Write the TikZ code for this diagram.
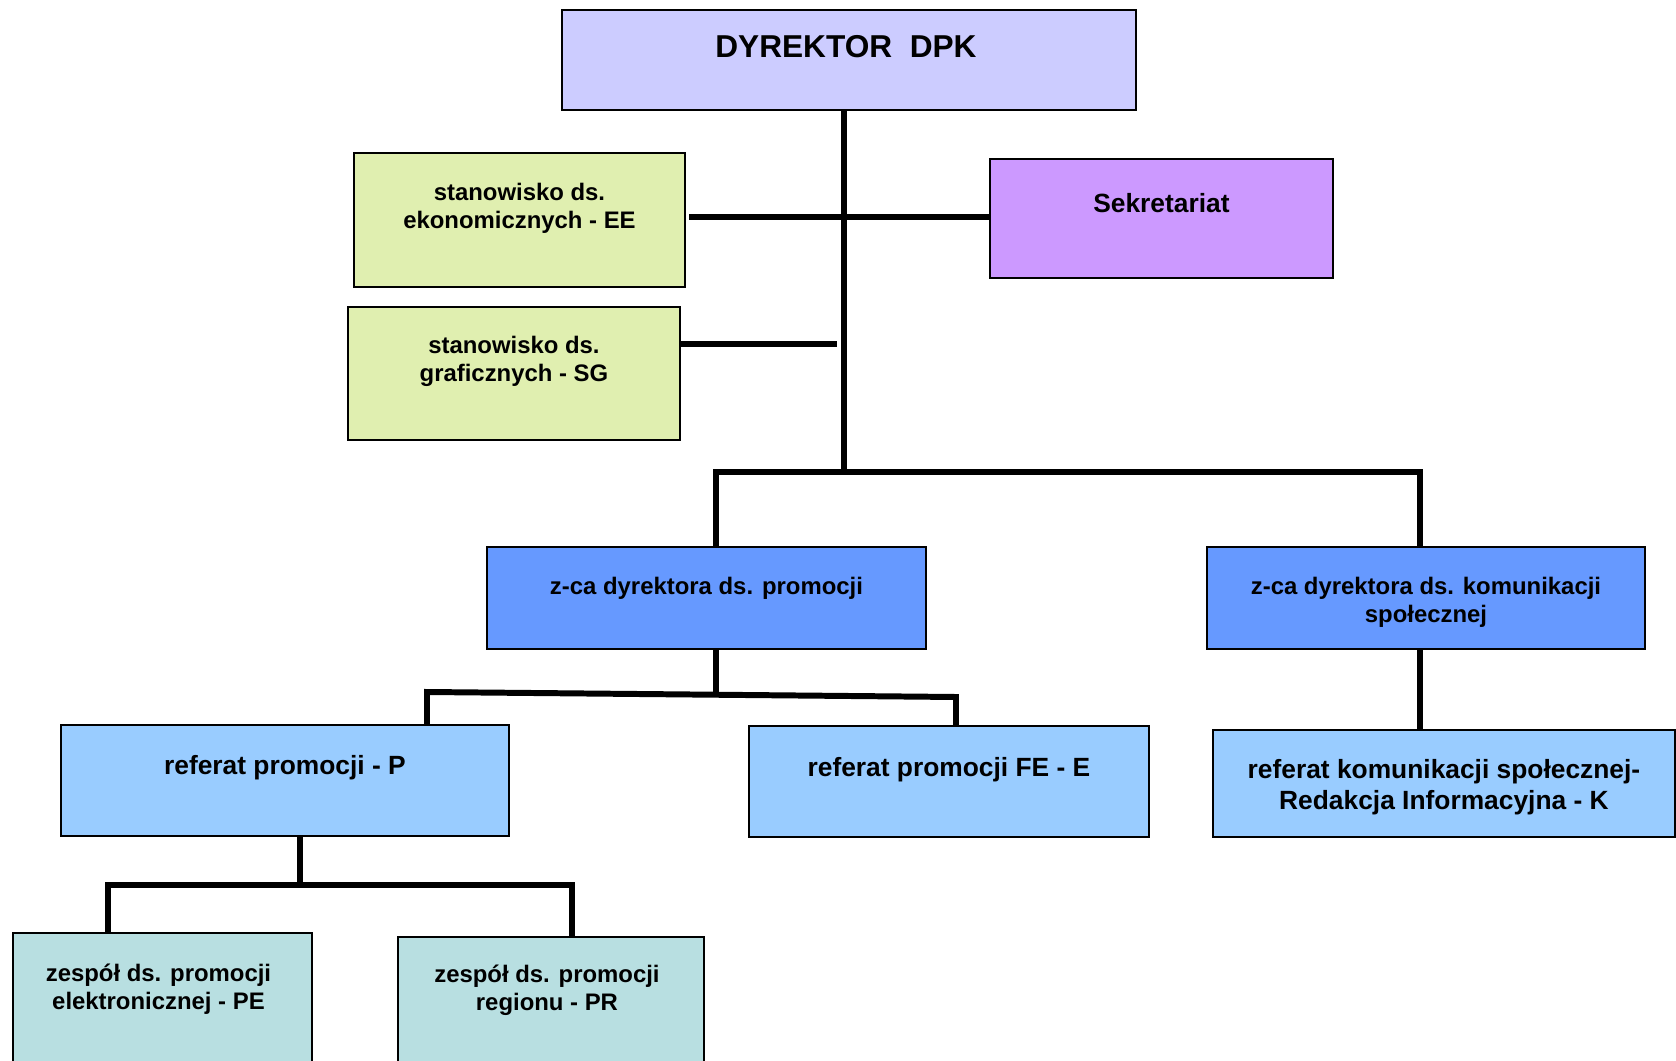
\documentclass[tikz,border=0pt]{standalone}
\usepackage{fontspec}
\setmainfont{Liberation Sans}
\usepackage{tikz}
\usetikzlibrary{positioning}
\usetikzlibrary{calc}
\definecolor{dyrfill}{HTML}{CCCCFF}
\definecolor{stanfill}{HTML}{E0EFB0}
\definecolor{sekfill}{HTML}{CC99FF}
\definecolor{zcafill}{HTML}{6699FF}
\definecolor{reffill}{HTML}{99CCFF}
\definecolor{zesfill}{HTML}{B8DFE1}
\tikzstyle{unit box}=[draw,line width=1.1pt,anchor=north west,inner sep=0pt]
\tikzstyle{unit text}=[align=center,inner sep=0pt]
\tikzstyle{big text}=[font=\fontsize{18}{21}\selectfont\bfseries]
\tikzstyle{mid text}=[font=\fontsize{15}{17.6}\selectfont\bfseries]
\tikzstyle{small text}=[font=\fontsize{13.6}{15.8}\selectfont\bfseries]
\tikzstyle{org edge}=[line width=3.4pt]
\newcommand{\unitbox}[3][]{
  \node [unit box, #1] (#2) at (#3) {}
}
\newcommand{\unitlabel}[4][]{
  \node [unit text, #1] (#2-text) at ($(#2.north)+(#3)$) {#4}
}

\begin{document}
\begin{tikzpicture}[x=0.2mm,y=-0.2mm]
        \useasboundingbox (0,0) rectangle (1676,1061);
        % boxes
        \unitbox[fill=dyrfill, minimum width=114.8mm, minimum height=20mm]{dyr}{561,9};
        \unitbox[fill=stanfill, minimum width=66.2mm, minimum height=26.8mm]{ee}{353,152};
        \unitbox[fill=stanfill, minimum width=66.4mm, minimum height=26.6mm]{sg}{347,306};
        \unitbox[fill=sekfill, minimum width=68.6mm, minimum height=23.8mm]{sek}{989,158};
        \unitbox[fill=zcafill, minimum width=87.8mm, minimum height=20.4mm]{zp}{486,546};
        \unitbox[fill=zcafill, minimum width=87.6mm, minimum height=20.4mm]{zk}{1206,546};
        \unitbox[fill=reffill, minimum width=89.6mm, minimum height=22.2mm]{rp}{60,724};
        \unitbox[fill=reffill, minimum width=80mm, minimum height=22.2mm]{rfe}{748,725};
        \unitbox[fill=reffill, minimum width=92.4mm, minimum height=21.4mm]{rk}{1212,729};
        \unitbox[fill=zesfill, minimum width=59.8mm, minimum height=28mm]{pe}{12,932};
        \unitbox[fill=zesfill, minimum width=61.2mm, minimum height=28mm]{pr}{397,936};

        % texts
        \unitlabel[big text]{dyr}{-3,38}{DYREKTOR\ \ DPK};
        \unitlabel[small text]{ee}{0,56}{stanowisko ds.\\ekonomicznych - EE};
        \unitlabel[small text]{sg}{0,55}{stanowisko ds.\\graficznych - SG};
        \unitlabel[mid text]{sek}{0,45}{Sekretariat};
        \unitlabel[small text]{zp}{0,42}{z-ca dyrektora ds. promocji};
        \unitlabel[small text]{zk}{0,56}{z-ca dyrektora ds. komunikacji\\społecznej};
        \unitlabel[mid text]{rp}{0,44}{referat promocji - P};
        \unitlabel[mid text]{rfe}{0,45}{referat promocji FE - E};
        \unitlabel[mid text]{rk}{0,58}{referat komunikacji społecznej-\\Redakcja Informacyjna - K};
        \unitlabel[small text]{pe}{-4,57}{zespół ds. promocji\\elektronicznej - PE};
        \unitlabel[small text]{pr}{-4,54}{zespół ds. promocji\\regionu - PR};

        % taps on the lines
        \coordinate (bus) at (844,472);
        \coordinate (zptap) at (716,472);
        \coordinate (zktap) at (1420,472);
        \coordinate (eetap) at (689,217);
        \coordinate (sgtap) at (837,344);
        \coordinate (pmid) at (716,694.7);
        \coordinate (pbl) at (427,692);
        \coordinate (pbr) at (956,697);
        \coordinate (rptap) at (300,885);
        \coordinate (zbl) at (108,885);
        \coordinate (zbr) at (572,885);

            \draw[org edge] (dyr.south -| bus) -- (bus);
            \draw[org edge] (eetap) -- (eetap -| sek.west);
            \draw[org edge] (sgtap -| sg.east) -- (sgtap);
            \draw[org edge] (zptap |- zp.north) -- (zptap) -- (zktap) -- (zktap |- zk.north);

            \draw[org edge] (zptap |- zp.south) -- (pmid);
            \draw[org edge] (pbl |- rp.north) -- (pbl) -- (pbr) -- (pbr |- rfe.north);
            \draw[org edge] (zktap |- zk.south) -- (zktap |- rk.north);

            \draw[org edge] (rptap |- rp.south) -- (rptap);
            \draw[org edge] (zbl |- pe.north) -- (zbl) -- (zbr) -- (zbr |- pr.north);
\end{tikzpicture}
\end{document}
